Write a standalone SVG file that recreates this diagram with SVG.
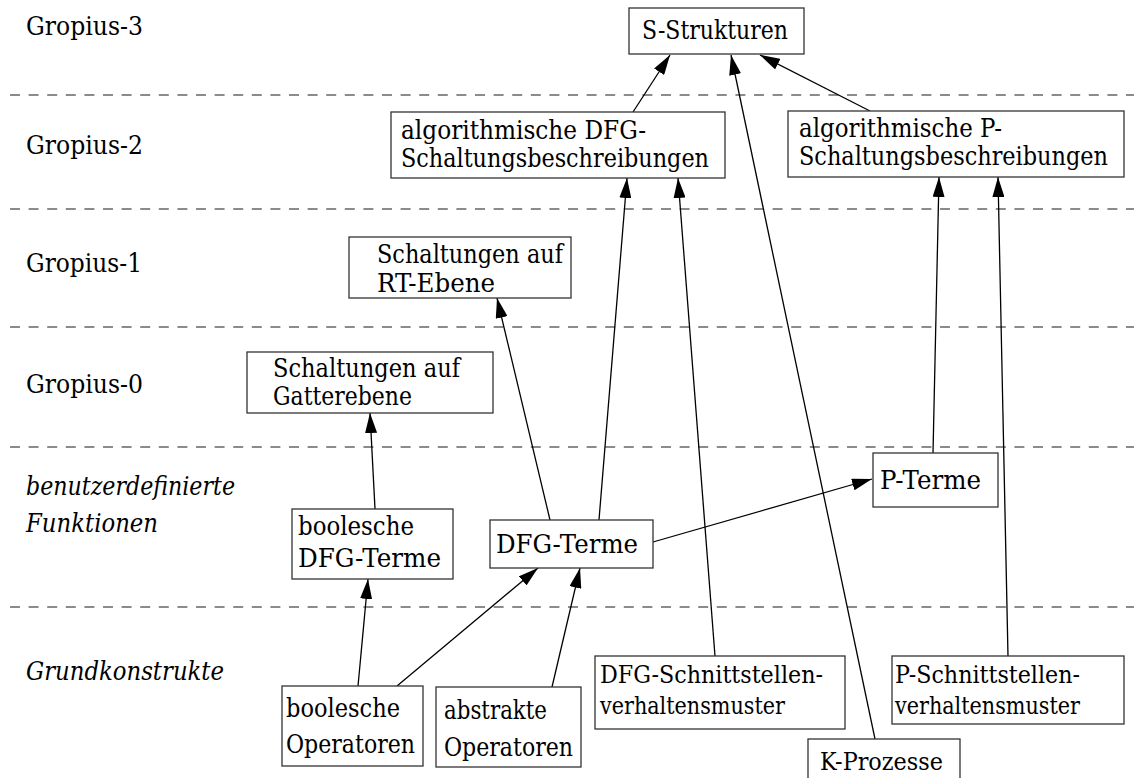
<svg xmlns="http://www.w3.org/2000/svg" width="1134" height="778" viewBox="0 0 1134 778">
  <style>
    text { font-family: "DejaVu Serif", "Liberation Serif", serif; font-size: 25.5px; fill: #000; }
    .it { font-style: italic; }
    .sm { font-size: 24.5px; }
    .box { fill: #fff; stroke: #333; stroke-width: 1.3; }
    .sep { stroke: #666; stroke-width: 1.3; stroke-dasharray: 10 8.6; fill: none; }
    .edge { stroke: #000; stroke-width: 1.3; fill: none; marker-end: url(#arrow); }
  </style>
  <defs>
    <marker id="arrow" viewBox="0 0 20 12" refX="20" refY="6" markerWidth="20" markerHeight="12" markerUnits="userSpaceOnUse" orient="auto">
      <path d="M0,0 L20,6 L0,12 z" fill="#000"/>
    </marker>
  </defs>

  <!-- layer separators -->
  <g id="separators">
    <line class="sep" x1="10" y1="95" x2="1134" y2="95"/>
    <line class="sep" x1="10" y1="209" x2="1134" y2="209"/>
    <line class="sep" x1="10" y1="327" x2="1134" y2="327"/>
    <line class="sep" x1="10" y1="447" x2="1134" y2="447"/>
    <line class="sep" x1="10" y1="607" x2="1134" y2="607"/>
  </g>

  <!-- layer labels -->
  <g id="layer-labels">
    <text x="26" y="35" textLength="117" lengthAdjust="spacingAndGlyphs">Gropius-3</text>
    <text x="26" y="154" textLength="117" lengthAdjust="spacingAndGlyphs">Gropius-2</text>
    <text x="26" y="272" textLength="116" lengthAdjust="spacingAndGlyphs">Gropius-1</text>
    <text x="26" y="393" textLength="117" lengthAdjust="spacingAndGlyphs">Gropius-0</text>
    <text class="it" x="26" y="495" textLength="209" lengthAdjust="spacingAndGlyphs">benutzerdefinierte</text>
    <text class="it" x="26" y="532" textLength="132" lengthAdjust="spacingAndGlyphs">Funktionen</text>
    <text class="it" x="26" y="680" textLength="198" lengthAdjust="spacingAndGlyphs">Grundkonstrukte</text>
  </g>

  <!-- connectors -->
  <g id="connectors">
    <line class="edge" x1="633" y1="112" x2="670" y2="55"/>
    <line class="edge" x1="870" y1="111" x2="760" y2="55"/>
    <line class="edge" x1="875" y1="739" x2="731" y2="55"/>
    <line class="edge" x1="599" y1="520" x2="627" y2="178"/>
    <line class="edge" x1="715" y1="656" x2="678" y2="178"/>
    <line class="edge" x1="933" y1="453" x2="939" y2="177"/>
    <line class="edge" x1="1008" y1="656" x2="998" y2="177"/>
    <line class="edge" x1="550" y1="520" x2="497" y2="298"/>
    <line class="edge" x1="375" y1="509" x2="370" y2="413"/>
    <line class="edge" x1="653" y1="542" x2="872" y2="479"/>
    <line class="edge" x1="358" y1="686" x2="368" y2="579"/>
    <line class="edge" x1="397" y1="686" x2="538" y2="568"/>
    <line class="edge" x1="552" y1="687" x2="580" y2="568"/>
  </g>

  <g id="s-strukturen">
    <rect class="box" x="629" y="8" width="175" height="46"/>
    <text x="642" y="39" textLength="146" lengthAdjust="spacingAndGlyphs">S-Strukturen</text>
  </g>

  <g id="alg-dfg">
    <rect class="box" x="391" y="112" width="334" height="66"/>
    <text x="401" y="139" textLength="245" lengthAdjust="spacingAndGlyphs">algorithmische DFG-</text>
    <text x="401" y="167" textLength="308" lengthAdjust="spacingAndGlyphs">Schaltungsbeschreibungen</text>
  </g>

  <g id="alg-p">
    <rect class="box" x="788" y="111" width="336" height="66"/>
    <text x="799" y="137" textLength="203" lengthAdjust="spacingAndGlyphs">algorithmische P-</text>
    <text x="799" y="165" textLength="309" lengthAdjust="spacingAndGlyphs">Schaltungsbeschreibungen</text>
  </g>

  <g id="rt-ebene">
    <rect class="box" x="349" y="237" width="222" height="61"/>
    <text x="377" y="263" textLength="186" lengthAdjust="spacingAndGlyphs">Schaltungen auf</text>
    <text x="377" y="292" textLength="118" lengthAdjust="spacingAndGlyphs">RT-Ebene</text>
  </g>

  <g id="gatterebene">
    <rect class="box" x="247" y="352" width="246" height="61"/>
    <text x="273" y="377" textLength="187" lengthAdjust="spacingAndGlyphs">Schaltungen auf</text>
    <text x="273" y="405" textLength="139" lengthAdjust="spacingAndGlyphs">Gatterebene</text>
  </g>

  <g id="bool-dfg-terme">
    <rect class="box" x="292" y="509" width="161" height="70"/>
    <text x="298" y="535" textLength="116" lengthAdjust="spacingAndGlyphs">boolesche</text>
    <text x="298" y="567" textLength="143" lengthAdjust="spacingAndGlyphs">DFG-Terme</text>
  </g>

  <g id="dfg-terme">
    <rect class="box" x="490" y="520" width="163" height="48"/>
    <text x="496" y="553" textLength="142" lengthAdjust="spacingAndGlyphs">DFG-Terme</text>
  </g>

  <g id="p-terme">
    <rect class="box" x="873" y="453" width="125" height="54"/>
    <text x="880" y="489" textLength="101" lengthAdjust="spacingAndGlyphs">P-Terme</text>
  </g>

  <g id="bool-operatoren">
    <rect class="box" x="282" y="686" width="141" height="80"/>
    <text x="286" y="717" textLength="114" lengthAdjust="spacingAndGlyphs">boolesche</text>
    <text x="286" y="753" textLength="129" lengthAdjust="spacingAndGlyphs">Operatoren</text>
  </g>

  <g id="abs-operatoren">
    <rect class="box" x="436" y="687" width="145" height="80"/>
    <text x="444" y="719" textLength="103" lengthAdjust="spacingAndGlyphs">abstrakte</text>
    <text x="444" y="756" textLength="129" lengthAdjust="spacingAndGlyphs">Operatoren</text>
  </g>

  <g id="dfg-schnittstellen">
    <rect class="box" x="595" y="656" width="250" height="73"/>
    <text class="sm" x="600" y="683" textLength="223" lengthAdjust="spacingAndGlyphs">DFG-Schnittstellen-</text>
    <text class="sm" x="600" y="714" textLength="185" lengthAdjust="spacingAndGlyphs">verhaltensmuster</text>
  </g>

  <g id="p-schnittstellen">
    <rect class="box" x="892" y="656" width="232" height="68"/>
    <text class="sm" x="895" y="683" textLength="185" lengthAdjust="spacingAndGlyphs">P-Schnittstellen-</text>
    <text class="sm" x="895" y="714" textLength="185" lengthAdjust="spacingAndGlyphs">verhaltensmuster</text>
  </g>

  <g id="k-prozesse">
    <rect class="box" x="808" y="739" width="152" height="50"/>
    <text class="sm" x="820" y="770" textLength="123" lengthAdjust="spacingAndGlyphs">K-Prozesse</text>
  </g>
</svg>
